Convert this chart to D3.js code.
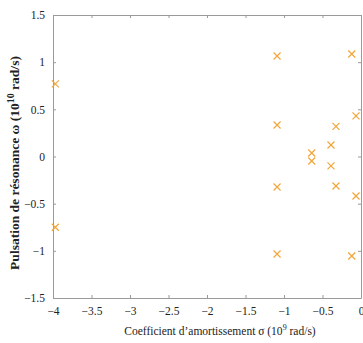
<!DOCTYPE html>
<html><head><meta charset="utf-8">
<script src="https://cdn.jsdelivr.net/npm/d3@7"></script>
<style>body{margin:0;background:#fff}svg{display:block}svg text{font-family:"Liberation Serif","DejaVu Serif",serif}</style>
</head><body>
<svg id="c" width="363" height="343"></svg>
<script>
const sigma = [-3.97,-3.97,-1.09,-1.09,-1.09,-1.09,-0.64,-0.64,-0.39,-0.39,-0.325,-0.325,-0.12,-0.12,-0.065,-0.065];
const omega = [0.77,-0.75,1.065,0.334,-0.323,-1.034,0.037,-0.048,0.122,-0.10,0.32,-0.313,1.087,-1.055,0.43,-0.419];
const xTicks = [-4,-3.5,-3,-2.5,-2,-1.5,-1,-0.5,0];
const yTicks = [-1.5,-1,-0.5,0,0.5,1,1.5];

const svg = d3.select("#c");
const L=53,R=361,T=15,B=298;
const x = d3.scaleLinear().domain([-4,0]).range([L,R]);
const y = d3.scaleLinear().domain([-1.5,1.5]).range([B,T]);
const fmt = d => (d<0?"\u2212":"")+String(Math.abs(d));
const axCol="#9a9a9a";
const serif="'Liberation Serif','DejaVu Serif',serif";

function style(g){
  g.attr("font-family",serif);
  g.selectAll("path.domain").attr("stroke",axCol);
  g.selectAll(".tick line").attr("stroke",axCol);
  g.selectAll(".tick text").attr("font-family",serif).style("font-family",serif).attr("font-size",11.5).attr("fill","#222");
}
svg.append("g").attr("transform",`translate(0,${B})`)
  .call(d3.axisBottom(x).tickValues(xTicks).tickFormat(fmt).tickSizeInner(-3).tickSizeOuter(0).tickPadding(9)).call(style);
svg.append("g").attr("transform",`translate(0,${T})`)
  .call(d3.axisTop(x).tickValues(xTicks).tickFormat("").tickSizeInner(-3).tickSizeOuter(0)).call(style);
svg.append("g").attr("transform",`translate(${L},0)`)
  .call(d3.axisLeft(y).tickValues(yTicks).tickFormat(fmt).tickSizeInner(-3).tickSizeOuter(0).tickPadding(8)).call(style);
svg.append("g").attr("transform",`translate(${R},0)`)
  .call(d3.axisRight(y).tickValues(yTicks).tickFormat("").tickSizeInner(-3).tickSizeOuter(0)).call(style);

const s=3.5;
const g = svg.append("g");
sigma.forEach((v,i)=>{
  const cx=x(v), cy=y(omega[i]);
  g.append("path").attr("d",`M${cx-s},${cy-s}L${cx+s},${cy+s}M${cx-s},${cy+s}L${cx+s},${cy-s}`)
   .attr("stroke","#f2a53a").attr("stroke-width",1.2).attr("fill","none");
});

svg.append("text").attr("x",220).attr("y",335).attr("text-anchor","middle")
  .attr("font-size",11.5).attr("fill","#222").style("font-family",serif)
  .html("Coefficient d\u2019amortissement \u03c3 (10<tspan dy='-5' font-size='8'>9</tspan><tspan dy='5'> rad/s)</tspan>");
svg.append("text").attr("transform","translate(19,163) rotate(-90)").attr("text-anchor","middle")
  .attr("font-size",13.5).attr("font-weight","bold").attr("fill","#222").style("font-family",serif)
  .html("Pulsation de r\u00e9sonance \u03c9 (10<tspan dy='-5' font-size='10'>10</tspan><tspan dy='5'> rad/s)</tspan>");
</script>
</body></html>
